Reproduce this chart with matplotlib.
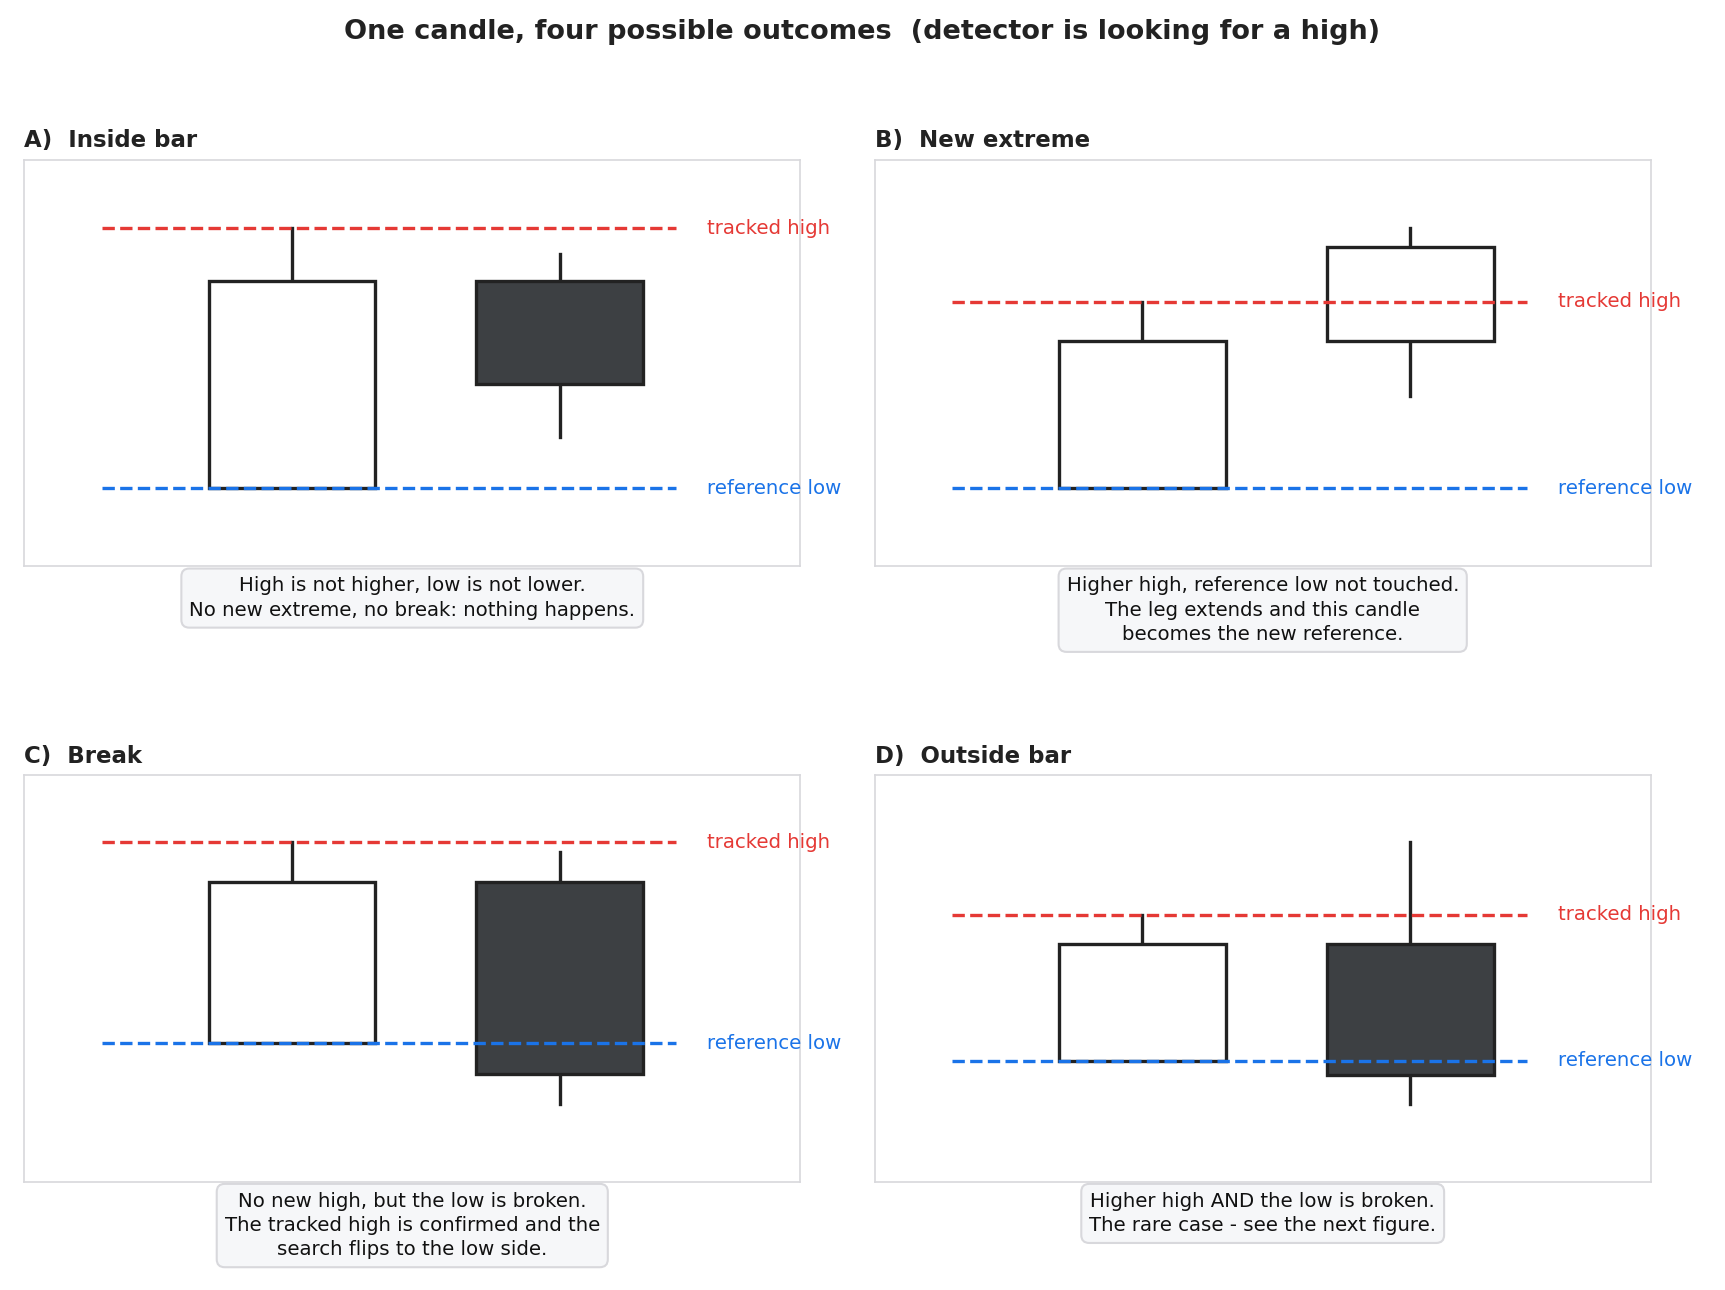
import matplotlib
matplotlib.use("Agg")
import matplotlib.pyplot as plt

titles = ["A)  Inside bar", "B)  New extreme", "C)  Break", "D)  Outside bar"]
tracked_high = [8.32, 6.51, 8.35, 6.57]
reference_low = [1.92, 1.92, 3.41, 2.97]
# each candle: (open, close, high, low)
candles = [
    [(1.92, 7.03, 8.32, 1.92), (7.03, 4.49, 7.68, 3.19)],
    [(1.92, 5.54, 6.51, 1.92), (5.54, 7.86, 8.32, 4.19)],
    [(3.41, 7.38, 8.35, 3.41), (7.38, 2.65, 8.11, 1.92)],
    [(2.97, 5.86, 6.57, 2.97), (5.86, 2.62, 8.35, 1.92)],
]
captions = [
    "High is not higher, low is not lower.\nNo new extreme, no break: nothing happens.",
    "Higher high, reference low not touched.\nThe leg extends and this candle\nbecomes the new reference.",
    "No new high, but the low is broken.\nThe tracked high is confirmed and the\nsearch flips to the low side.",
    "Higher high AND the low is broken.\nThe rare case - see the next figure.",
]

RED = "#e53935"
BLUE = "#1a73e8"
DARK = "#3d4043"
EDGE = "#222222"

fig = plt.figure(figsize=(11.5, 8.6), dpi=150)
fig.suptitle("One candle, four possible outcomes  (detector is looking for a high)",
             fontsize=13, fontweight="bold", color="#222222", y=0.985)

lefts = [0.014, 0.507, 0.014, 0.507]
bottoms = [0.561, 0.561, 0.084, 0.084]
xs = [3.45, 6.9]
w = 2.15

for i in range(4):
    ax = fig.add_axes([lefts[i], bottoms[i], 0.45, 0.315])
    ax.set_xlim(0, 10)
    ax.set_ylim(0, 10)
    ax.set_xticks([])
    ax.set_yticks([])
    for s in ax.spines.values():
        s.set_color("#d8d8dc")
    ax.set_title(titles[i], loc="left", fontsize=11, fontweight="bold", color="#222222", pad=6)

    ax.plot([1.0, 8.4], [tracked_high[i]] * 2, ls="--", color=RED, lw=1.6, zorder=3)
    ax.plot([1.0, 8.4], [reference_low[i]] * 2, ls="--", color=BLUE, lw=1.6, zorder=3)
    ax.text(8.8, tracked_high[i], "tracked high", color=RED, fontsize=9.5, va="center")
    ax.text(8.8, reference_low[i], "reference low", color=BLUE, fontsize=9.5, va="center")

    for x, (o, c, h, l) in zip(xs, candles[i]):
        top, bot = max(o, c), min(o, c)
        fc = "white" if c >= o else DARK
        ax.plot([x, x], [top, h], color=EDGE, lw=1.6, zorder=1)
        ax.plot([x, x], [l, bot], color=EDGE, lw=1.6, zorder=1)
        ax.add_patch(plt.Rectangle((x - w / 2, bot), w, top - bot, facecolor=fc,
                                   edgecolor=EDGE, lw=1.6, zorder=2))

    ax.text(0.5, -0.025, captions[i], transform=ax.transAxes, ha="center", va="top",
            fontsize=9.5, color="#111111", linespacing=1.35,
            bbox=dict(boxstyle="round,pad=0.4", fc="#f6f7f9", ec="#d8d8dc"))

fig.savefig("out.png", dpi=150)
